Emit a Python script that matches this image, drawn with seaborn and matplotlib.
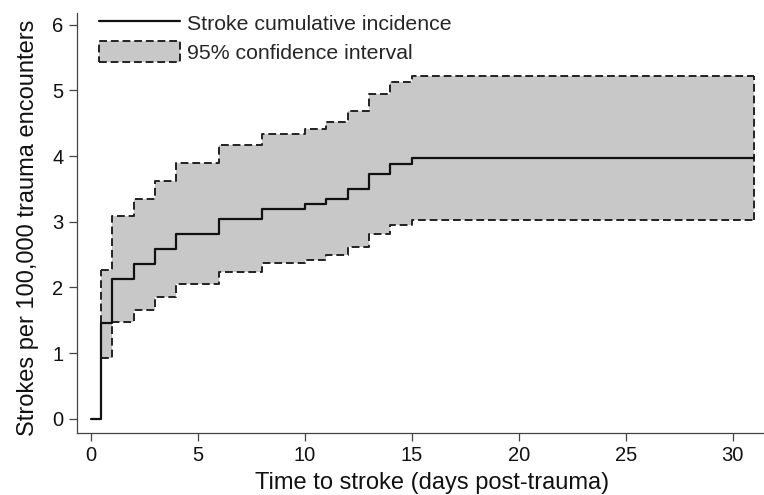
import numpy as np
import pandas as pd
import seaborn as sns
import matplotlib
matplotlib.use("Agg")
from matplotlib import pyplot as plt
from matplotlib.lines import Line2D
from matplotlib.patches import Patch

# step times (days) and cumulative incidence per 100,000 encounters
days = [0, 0.5, 1, 2, 3, 4, 6, 8, 10, 11, 12, 13, 14, 15, 31]
incidence = [0, 1.46, 2.13, 2.36, 2.59, 2.81, 3.04, 3.20, 3.27, 3.35, 3.50, 3.72, 3.88, 3.97, 3.97]
# 95% CI, starts at first event (day 0.5)
ci_days = days[1:]
ci_upper = [2.27, 3.09, 3.35, 3.62, 3.89, 4.16, 4.33, 4.41, 4.51, 4.68, 4.94, 5.12, 5.21, 5.21]
ci_lower = [0.92, 1.47, 1.65, 1.85, 2.05, 2.24, 2.37, 2.42, 2.50, 2.62, 2.82, 2.95, 3.02, 3.02]

xticks = [0, 5, 10, 15, 20, 25, 30]
yticks = [0, 1, 2, 3, 4, 5, 6]

sns.set_style("ticks")
plt.rcParams['font.family'] = ['Liberation Sans', 'DejaVu Sans']

df = pd.DataFrame({'day': days, 'inc': incidence})
dfci = pd.DataFrame({'day': ci_days, 'lo': ci_lower, 'hi': ci_upper})

fig = plt.figure(figsize=(7.64, 4.95), dpi=100)
ax = fig.add_axes([0.1012, 0.1258, 0.8988, 0.8485])

ci_col = '#c8c8c8'
edge = '#222222'
dash = (4, 2)

ax.fill_between(dfci.day, dfci.lo, dfci.hi, step='post', color=ci_col, lw=0, zorder=1)
sns.lineplot(data=dfci, x='day', y='hi', drawstyle='steps-post', color=edge, lw=1.4,
             ax=ax, zorder=2).lines[-1].set_dashes(dash)
sns.lineplot(data=dfci, x='day', y='lo', drawstyle='steps-post', color=edge, lw=1.4,
             ax=ax, zorder=2).lines[-1].set_dashes(dash)
ax.vlines([ci_days[0], ci_days[-1]], [ci_lower[0], ci_lower[-1]], [ci_upper[0], ci_upper[-1]],
          colors=edge, lw=1.4, linestyles=[(0, dash)], zorder=2)
sns.lineplot(data=df, x='day', y='inc', drawstyle='steps-post', color='#111111', lw=1.6,
             ax=ax, zorder=3)

ax.set_xlim(-0.63, 31.46)
ax.set_ylim(-0.21, 6.18)
ax.set_xticks(xticks)
ax.set_yticks(yticks)
ax.tick_params(axis='both', labelsize=14.5, colors='#444444', labelcolor='#111111',
               length=6, width=0.9)
ax.tick_params(axis='x', pad=3.5)
ax.tick_params(axis='y', pad=4)
for s in ['top', 'right']:
    ax.spines[s].set_visible(False)
for s in ['left', 'bottom']:
    ax.spines[s].set_color('#444444')
    ax.spines[s].set_linewidth(0.9)

ax.set_xlabel('Time to stroke (days post-trauma)', fontsize=17, color='#111111')
ax.set_ylabel('Strokes per 100,000 trauma encounters', fontsize=17, color='#111111')
ax.xaxis.set_label_coords(0.5165, -0.093)
ax.yaxis.set_label_coords(-0.056, 0.487)

handles = [Line2D([0], [0], color='#111111', lw=1.6),
           Patch(facecolor=ci_col, edgecolor=edge, lw=1.4, linestyle=(0, dash))]
ax.legend(handles, ['Stroke cumulative incidence', '95% confidence interval'],
          loc='upper left', bbox_to_anchor=(0.032, 1.0), frameon=False, fontsize=15.3,
          handlelength=3.8, handleheight=1.1, handletextpad=0.35, labelspacing=0.33,
          borderpad=0, borderaxespad=0)

plt.savefig('out.png', dpi=100)
